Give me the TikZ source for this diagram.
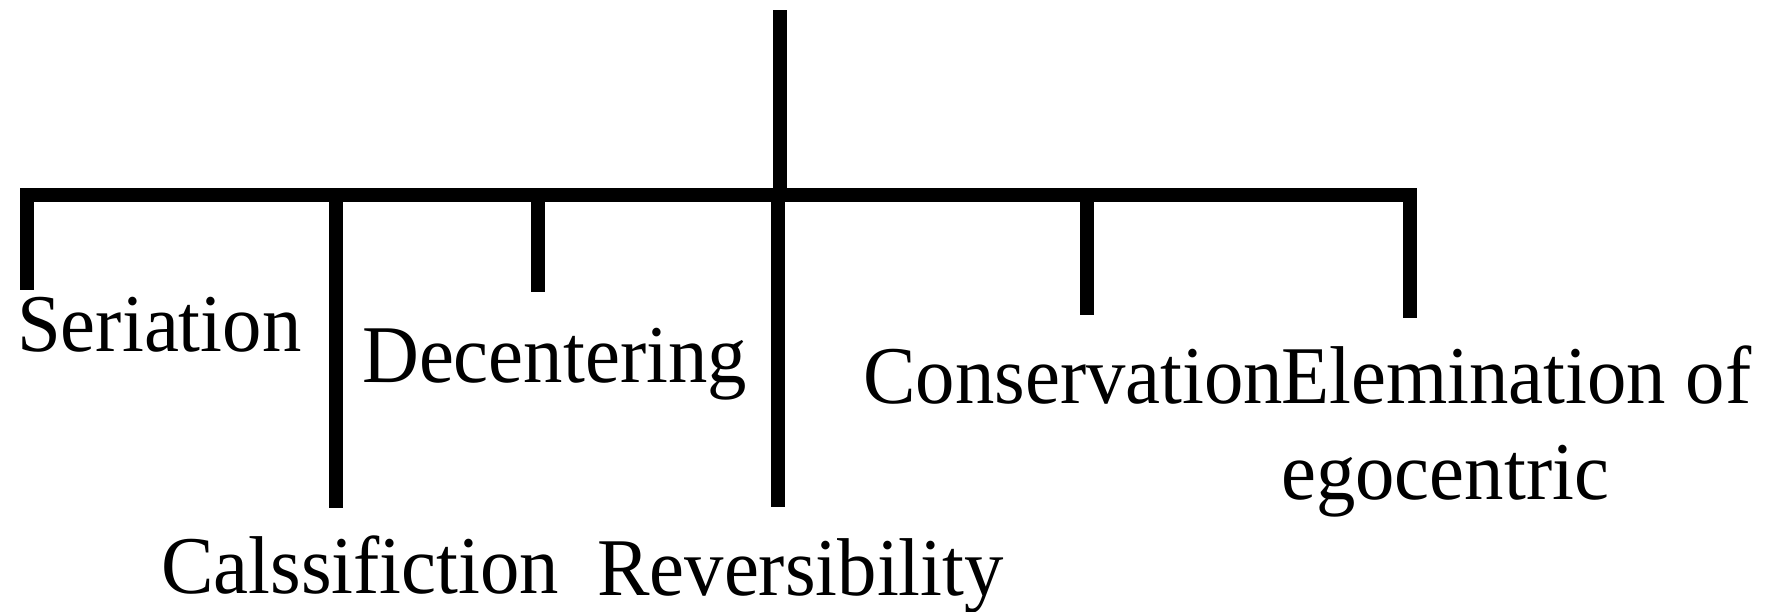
\documentclass[tikz,border=0pt]{standalone}
\usepackage{fontspec}
\setmainfont[FakeStretch=0.96]{Liberation Serif}
\begin{document}
\begin{tikzpicture}[x=1pt,y=-1pt,
  bar/.style={line width=14pt},
  drop/.style={line width=14pt},
  lbl/.style={anchor=base west, inner sep=0pt, align=left,
    font=\fontsize{82}{96}\selectfont}]
\useasboundingbox[fill=white] (0,0) rectangle (1775,611);
% tree skeleton
\coordinate (top) at (780,10);
\coordinate (hub) at (780,195);
\coordinate (L) at (20,195);
\coordinate (R) at (1417,195);
\coordinate (jSer) at (27,195);   \coordinate (eSer) at (27,290);
\coordinate (jCla) at (336,195);  \coordinate (eCla) at (336,508);
\coordinate (jDec) at (538,195);  \coordinate (eDec) at (538,292);
\coordinate (jRev) at (778,195);  \coordinate (eRev) at (778,507);
\coordinate (jCon) at (1087,195); \coordinate (eCon) at (1087,315);
\coordinate (jEli) at (1410,195); \coordinate (eEli) at (1410,318);
% labels
\node[lbl] (ser) at (17,351) {Seriation};
\node[lbl] (dec) at (362,382) {Decentering};
\node[lbl] (cla) at (161,593) {Calssifiction};
\node[lbl] (rev) at (597,595) {Reversibility};
\node[lbl] (con) at (863,403) {Conservation};
\node[lbl] (eli) at (1281,499) {Elemination of\\egocentric};
% connectors
\draw[bar] (top) -- (hub);
\draw[bar] (L) -- (R);
\draw[drop] (jSer) -- (eSer);
\draw[drop] (jCla) -- (eCla);
\draw[drop] (jDec) -- (eDec);
\draw[drop] (jRev) -- (eRev);
\draw[drop] (jCon) -- (eCon);
\draw[drop] (jEli) -- (eEli);
\end{tikzpicture}
\end{document}
